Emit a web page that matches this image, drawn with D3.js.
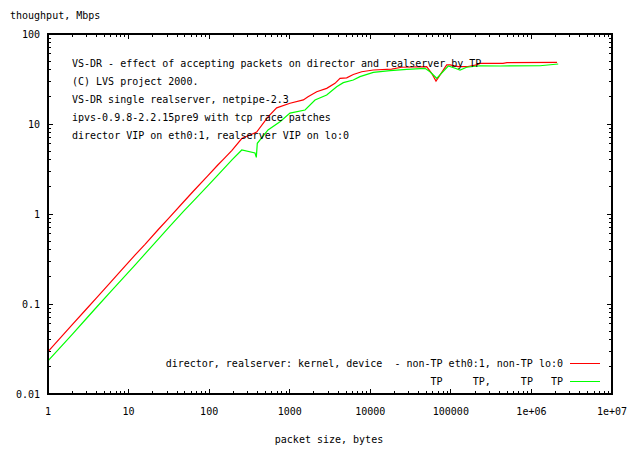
<!DOCTYPE html>
<html>
<head>
<meta charset="utf-8">
<script src="https://cdn.jsdelivr.net/npm/d3@7"></script>
<style>
  body { margin: 0; background: #fff; }
  text { font-family: "DejaVu Sans Mono", monospace; font-size: 10px; fill: #000; }
</style>
</head>
<body>
<div id="chart"></div>
<script>
var svgWidth = 638;
var svgHeight = 450;

var margin = { top: 34, right: 26, bottom: 56, left: 48 };
var width = svgWidth - margin.left - margin.right;
var height = svgHeight - margin.top - margin.bottom;

// non-TP (red)
var redSize = [1, 2, 3, 4, 6, 8, 12, 16, 24, 32, 48, 64, 96, 128, 150, 192, 254, 389, 538, 689,
  1008, 1476, 1687, 2163, 2877, 3648, 4210, 5098, 6152, 7823, 10900, 18400, 24500, 50100,
  57800, 65400, 88800, 97600, 123000, 157000, 209000, 230000, 444000, 498000, 2080000];
var redMbps = [0.0295, 0.059, 0.088, 0.117, 0.175, 0.233, 0.35, 0.46, 0.69, 0.91, 1.36, 1.8, 2.65, 3.5, 4.05, 5.1, 6.9, 8.15, 12.0, 15.1,
  17.0, 18.5, 20.1, 22.8, 24.9, 28.3, 32.2, 32.6, 35.5, 38.1, 39.8, 40.8, 42.7, 43.3,
  36.6, 30.0, 45.3, 45.3, 43.5, 43.3, 45.3, 47.2, 47.2, 48.0, 48.5];

// TP (green)
var greenSize = [1, 2, 3, 4, 6, 8, 12, 16, 24, 32, 48, 64, 96, 128, 192, 254, 371, 385, 396, 538,
  757, 1008, 1549, 2061, 2877, 3828, 4624, 6152, 7447, 10900, 17600, 28300, 47800, 55100,
  66700, 92900, 113000, 130000, 157000, 230000, 408000, 1280000, 2150000];
var greenMbps = [0.0233, 0.046, 0.069, 0.092, 0.137, 0.182, 0.27, 0.36, 0.54, 0.72, 1.07, 1.4, 2.05, 2.7, 4.0, 5.14, 4.76, 4.26, 6.1, 8.58,
  10.6, 13.2, 14.3, 18.5, 21.0, 25.9, 28.8, 30.8, 33.6, 37.5, 39.1, 40.5, 41.6, 38.1,
  32.2, 44.1, 41.6, 39.8, 42.7, 44.4, 44.1, 44.4, 46.4];

var xTicks = [1, 10, 100, 1000, 10000, 100000, 1e6, 1e7];
var xTickLabels = ["1", "10", "100", "1000", "10000", "100000", "1e+06", "1e+07"];
var yTicks = [0.01, 0.1, 1, 10, 100];
var yTickLabels = ["0.01", "0.1", "1", "10", "100"];

var titleLines = [
  "VS-DR - effect of accepting packets on director and realserver by TP",
  "(C) LVS project 2000.",
  "VS-DR single realserver, netpipe-2.3",
  "ipvs-0.9.8-2.2.15pre9 with tcp race patches",
  "director VIP on eth0:1, realserver VIP on lo:0"
];
var legendLabels = [
  "director, realserver: kernel, device  - non-TP eth0:1, non-TP lo:0",
  "TP     TP,     TP   TP"
];
var legendColors = ["#ff0000", "#00ff00"];

var svg = d3.select("#chart")
  .append("svg")
  .attr("width", svgWidth)
  .attr("height", svgHeight);

var chart = svg.append("g")
  .attr("transform", `translate(${margin.left}, ${margin.top})`);

var x = d3.scaleLog().domain([1, 1e7]).range([0, width]);
var y = d3.scaleLog().domain([0.01, 100]).range([height, 0]);

// minor ticks 2..9 for each decade
function minors(lo, hi) {
  var out = [];
  for (var p = lo; p < hi; p *= 10) {
    for (var k = 2; k <= 9; k++) out.push(p * k);
  }
  return out;
}
var xMinor = minors(1, 1e7);
var yMinor = minors(0.01, 100);

var ticks = chart.append("g")
  .attr("stroke", "#000")
  .attr("stroke-width", 1)
  .attr("shape-rendering", "crispEdges");

function tickLines(vals, len, horizontal) {
  vals.forEach(function(v) {
    if (horizontal) {
      ticks.append("line").attr("x1", x(v)).attr("x2", x(v)).attr("y1", height).attr("y2", height - len);
      ticks.append("line").attr("x1", x(v)).attr("x2", x(v)).attr("y1", 0).attr("y2", len);
    } else {
      ticks.append("line").attr("y1", y(v)).attr("y2", y(v)).attr("x1", 0).attr("x2", len);
      ticks.append("line").attr("y1", y(v)).attr("y2", y(v)).attr("x1", width).attr("x2", width - len);
    }
  });
}
tickLines(xMinor, 3, true);
tickLines(xTicks, 5, true);
tickLines(yMinor, 3, false);
tickLines(yTicks, 5, false);

chart.append("g").selectAll("text")
  .data(xTicks)
  .enter()
  .append("text")
  .attr("x", d => x(d))
  .attr("y", height + 21)
  .attr("text-anchor", "middle")
  .text((d, i) => xTickLabels[i]);

chart.append("g").selectAll("text")
  .data(yTicks)
  .enter()
  .append("text")
  .attr("x", -8)
  .attr("y", d => y(d) + 4)
  .attr("text-anchor", "end")
  .text((d, i) => yTickLabels[i]);

var line = d3.line()
  .x(d => x(d[0]))
  .y(d => y(d[1]));

chart.append("path")
  .datum(d3.zip(redSize, redMbps))
  .attr("fill", "none")
  .attr("stroke", legendColors[0])
  .attr("stroke-width", 1.2)
  .attr("d", line);

chart.append("path")
  .datum(d3.zip(greenSize, greenMbps))
  .attr("fill", "none")
  .attr("stroke", legendColors[1])
  .attr("stroke-width", 1.2)
  .attr("d", line);

// border
chart.append("rect")
  .attr("width", width)
  .attr("height", height)
  .attr("fill", "none")
  .attr("stroke", "#000")
  .attr("stroke-width", 2)
  .attr("shape-rendering", "crispEdges");

// title block inside plot
chart.append("g").selectAll("text")
  .data(titleLines)
  .enter()
  .append("text")
  .attr("x", 24)
  .attr("y", (d, i) => 33 + i * 18)
  .text(d => d);

// legend
var legend = chart.append("g");
legendLabels.forEach(function(lbl, i) {
  var ly = 329 + i * 18;
  legend.append("text")
    .attr("x", 515)
    .attr("y", ly + 4)
    .attr("text-anchor", "end")
    .style("white-space", "pre")
    .attr("xml:space", "preserve")
    .text(lbl);
  legend.append("line")
    .attr("x1", 522).attr("x2", 552)
    .attr("y1", ly).attr("y2", ly)
    .attr("stroke", legendColors[i])
    .attr("stroke-width", 1)
    .attr("shape-rendering", "crispEdges");
});

svg.append("text")
  .attr("x", 10)
  .attr("y", 19)
  .text("thoughput, Mbps");

svg.append("text")
  .attr("x", 329)
  .attr("y", 443)
  .attr("text-anchor", "middle")
  .text("packet size, bytes");
</script>
</body>
</html>
